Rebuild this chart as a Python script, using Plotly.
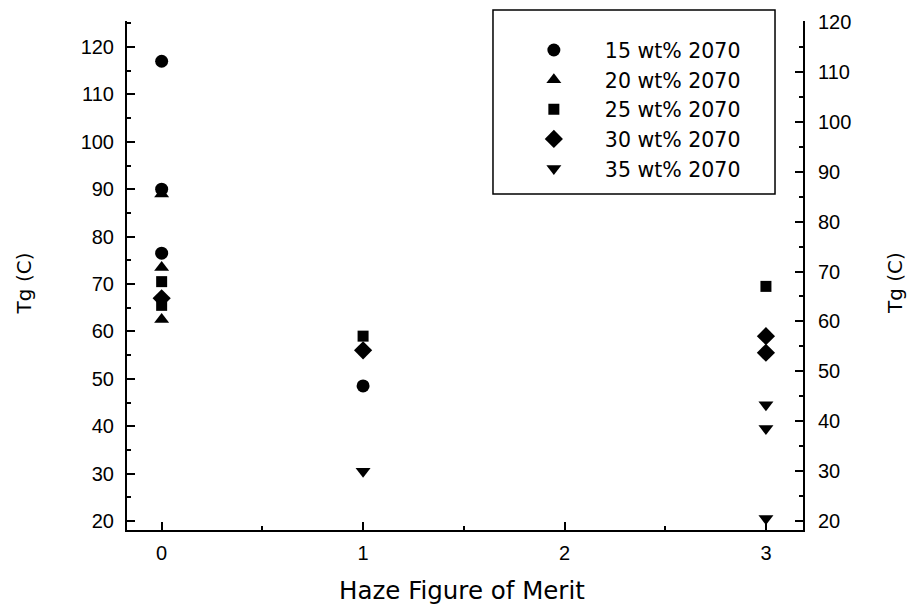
import plotly.graph_objects as go

# ---- data ----
series_names = ["15 wt% 2070", "20 wt% 2070", "25 wt% 2070", "30 wt% 2070", "35 wt% 2070"]
series_symbols = ["circle", "triangle-up", "square", "diamond", "triangle-down"]
series_sizes = [13, 13, 11, 14, 13]

x_15 = [0, 0, 0, 1]
y_15 = [117, 90, 76.5, 48.5]
x_20 = [0, 0, 0]
y_20 = [89, 73.5, 62.5]
x_25 = [0, 0, 1, 3]
y_25 = [70.5, 65.5, 59, 69.5]
x_30 = [0, 1, 3, 3]
y_30 = [67, 56, 59, 55.5]
x_35 = [1, 3, 3, 3]
y_35 = [30.5, 44.5, 39.5, 20.5]

x_ticks = [0, 1, 2, 3]
y_ticks = [20, 30, 40, 50, 60, 70, 80, 90, 100, 110, 120]

xs = [x_15, x_20, x_25, x_30, x_35]
ys = [y_15, y_20, y_25, y_30, y_35]

TICKFONT = "Liberation Sans, Arial, sans-serif"
TEXTFONT = "DejaVu Sans, sans-serif"

fig = go.Figure()
for name, sym, sz, xv, yv in zip(series_names, series_symbols, series_sizes, xs, ys):
    fig.add_trace(go.Scatter(
        x=xv, y=yv, mode="markers", name=name,
        marker=dict(symbol=sym, size=sz, color="black", line=dict(width=0)),
    ))

# invisible trace so the right axis is drawn
fig.add_trace(go.Scatter(x=[None], y=[None], yaxis="y2", showlegend=False, hoverinfo="skip"))

axis_common = dict(
    showgrid=False, zeroline=False, showline=True, linecolor="black", linewidth=2,
    ticks="inside", ticklen=8, tickwidth=2, tickcolor="black",
    tickfont=dict(family=TICKFONT, size=20, color="black"),
)

fig.update_layout(
    width=911, height=608,
    margin=dict(l=127, r=108, t=21, b=78),
    paper_bgcolor="white", plot_bgcolor="white",
    font=dict(family=TEXTFONT, color="black"),
    xaxis=dict(
        range=[-0.172, 3.184], tickvals=x_ticks, ticktext=[str(v) for v in x_ticks],
        minor=dict(dtick=0.5, tick0=0, ticks="inside", ticklen=4, tickwidth=1.5, tickcolor="black"),
        ticklabelstandoff=4,
        **axis_common,
    ),
    yaxis=dict(
        range=[18.1, 125.49], tickvals=y_ticks, ticktext=[str(v) for v in y_ticks],
        minor=dict(dtick=5, tick0=0, ticks="inside", ticklen=4, tickwidth=1.5, tickcolor="black"),
        ticklabelstandoff=7,
        **axis_common,
    ),
    yaxis2=dict(
        range=[18.2, 120.2], tickvals=y_ticks, ticktext=[str(v) for v in y_ticks],
        overlaying="y", side="right", anchor="x",
        minor=dict(dtick=5, tick0=0, ticks="inside", ticklen=4, tickwidth=1.5, tickcolor="black"),
        ticklabelstandoff=9,
        **axis_common,
    ),
    showlegend=True,
    legend=dict(
        x=0.556, y=0.982, xanchor="left", yanchor="top",
        bgcolor="rgba(0,0,0,0)", borderwidth=0,
        font=dict(family=TEXTFONT, size=20.5, color="black"),
        itemwidth=92, tracegroupgap=0,
    ),
    shapes=[dict(type="rect", xref="paper", yref="paper",
                 x0=0.5414, x1=0.9586, y0=0.660, y1=1.0216,
                 line=dict(color="black", width=1.5), fillcolor="rgba(0,0,0,0)")],
    annotations=[
        dict(text="Tg (C)", xref="paper", yref="paper", x=-0.152, y=0.485,
             textangle=-90, showarrow=False, xanchor="center", yanchor="middle",
             font=dict(family=TEXTFONT, size=20, color="black")),
        dict(text="Tg (C)", xref="paper", yref="paper", x=1.136, y=0.485,
             textangle=-90, showarrow=False, xanchor="center", yanchor="middle",
             font=dict(family=TEXTFONT, size=20, color="black")),
        dict(text="Haze Figure of Merit", xref="paper", yref="paper", x=0.496, y=-0.118,
             showarrow=False, xanchor="center", yanchor="middle",
             font=dict(family=TEXTFONT, size=24.5, color="black")),
    ],
)

fig.write_html("out.html", post_script="document.body.style.margin='0px';",
               config={"displayModeBar": False})
